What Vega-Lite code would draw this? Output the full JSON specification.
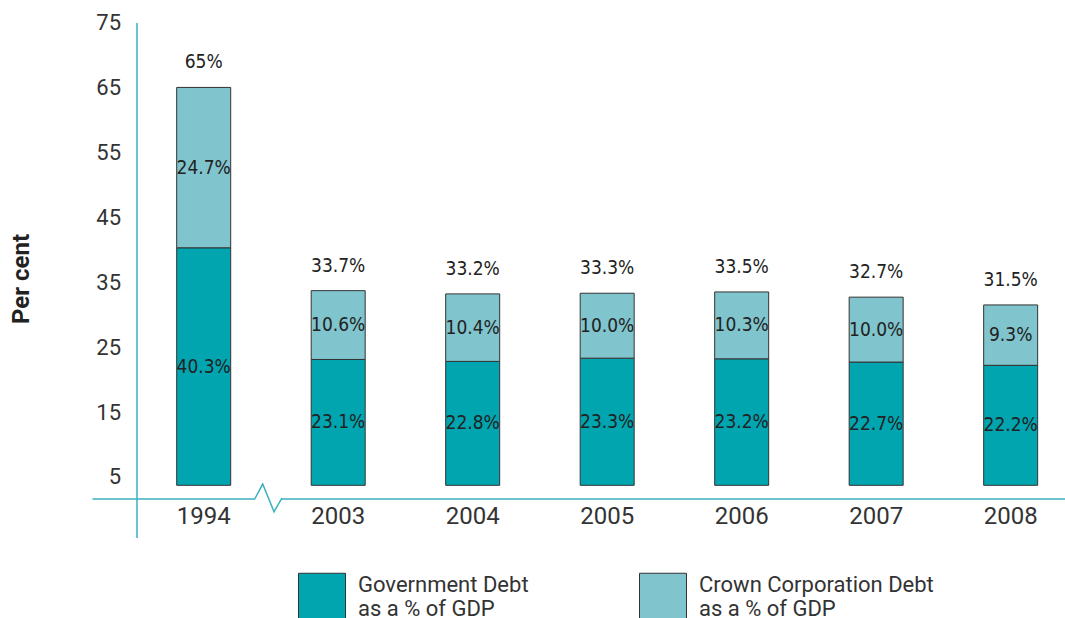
{
  "$schema": "https://vega.github.io/schema/vega-lite/v6.json",
  "autosize": {"type": "none"},
  "padding": {"left": 92, "top": 22.5, "right": 0, "bottom": 80.5},
  "width": 973,
  "height": 515,
  "background": "white",
  "config": {"view": {"stroke": null}, "font": "Roboto"},
  "data": {
    "values": [
      {"year": "1994", "series": "Government Debt", "value": 40.3},
      {"year": "1994", "series": "Crown Corporation Debt", "value": 24.7},
      {"year": "2003", "series": "Government Debt", "value": 23.1},
      {"year": "2003", "series": "Crown Corporation Debt", "value": 10.6},
      {"year": "2004", "series": "Government Debt", "value": 22.8},
      {"year": "2004", "series": "Crown Corporation Debt", "value": 10.4},
      {"year": "2005", "series": "Government Debt", "value": 23.3},
      {"year": "2005", "series": "Crown Corporation Debt", "value": 10.0},
      {"year": "2006", "series": "Government Debt", "value": 23.2},
      {"year": "2006", "series": "Crown Corporation Debt", "value": 10.3},
      {"year": "2007", "series": "Government Debt", "value": 22.7},
      {"year": "2007", "series": "Crown Corporation Debt", "value": 10.0},
      {"year": "2008", "series": "Government Debt", "value": 22.2},
      {"year": "2008", "series": "Crown Corporation Debt", "value": 9.3}
    ]
  },
  "layer": [
    {
      "transform": [
        {"stack": "value", "groupby": ["year"], "sort": [{"field": "series", "order": "descending"}], "as": ["v0", "v1"]},
        {"calculate": "max(datum.v0, 3.72)", "as": "lo"},
        {"calculate": "(datum.lo + datum.v1) / 2", "as": "mid"},
        {"calculate": "format(datum.value, '.1f') + '%'", "as": "lab"},
        {"calculate": "format(datum.v1, '.3~r') + '%'", "as": "tot"}
      ],
      "encoding": {
        "x": {
          "field": "year",
          "type": "nominal",
          "scale": {"paddingInner": 0.5985, "paddingOuter": 0.4165, "align": 0.756},
          "axis": {
            "title": null,
            "labelAngle": 0,
            "ticks": false,
            "offset": -39,
            "domainColor": "#3AAFBE",
            "domainWidth": 1.5,
            "labelFontSize": 24,
            "labelColor": "#333333",
            "labelPadding": 6
          }
        }
      },
      "layer": [
        {
          "mark": {"type": "bar", "stroke": "#333333", "strokeWidth": 1},
          "encoding": {
            "y": {
              "field": "v1",
              "type": "quantitative",
              "scale": {"domain": [-4.32, 75], "nice": false, "zero": false},
              "axis": {
                "values": [5, 15, 25, 35, 45, 55, 65, 75],
                "grid": false,
                "ticks": false,
                "offset": -44.5,
                "domainColor": "#3AAFBE",
                "domainWidth": 1.5,
                "labelFontSize": 22,
                "labelColor": "#333333",
                "labelPadding": 16,
                "title": "Per cent",
                "titleFontSize": 24,
                "titleFontWeight": "bold",
                "titleColor": "#222222",
                "titleBaseline": "alphabetic",
                "titleX": -108,
                "titleY": 256
              }
            },
            "y2": {"field": "lo"},
            "color": {
              "field": "series",
              "type": "nominal",
              "scale": {"domain": ["Government Debt", "Crown Corporation Debt"], "range": ["#00A5B0", "#80C4CD"]},
              "legend": {
                "orient": "none",
                "direction": "horizontal",
                "legendX": 206,
                "legendY": 550,
                "title": null,
                "padding": 0,
                "symbolType": "square",
                "symbolSize": 2209,
                "symbolStrokeColor": "#333333",
                "symbolStrokeWidth": 1,
                "symbolOpacity": 1,
                "labelFontSize": 22,
                "labelColor": "#333333",
                "labelOffset": 12,
                "labelBaseline": "bottom",
                "labelLineHeight": 22,
                "columnPadding": 108,
                "labelLimit": 400,
                "labelExpr": "[datum.label, 'as a % of GDP']"
              }
            }
          }
        },
        {
          "mark": {"type": "text", "font": "'DejaVu Sans Condensed', Roboto, sans-serif", "fontSize": 19, "color": "#222222", "baseline": "middle"},
          "encoding": {
            "y": {"field": "mid", "type": "quantitative"},
            "text": {"field": "lab"}
          }
        },
        {
          "transform": [{"filter": "datum.series == 'Crown Corporation Debt'"}],
          "mark": {"type": "text", "font": "'DejaVu Sans Condensed', Roboto, sans-serif", "fontSize": 19, "color": "#222222", "baseline": "middle", "dy": -25},
          "encoding": {
            "y": {"field": "v1", "type": "quantitative"},
            "text": {"field": "tot"}
          }
        }
      ]
    },
    {
      "data": {"values": [{}]},
      "mark": {"type": "point", "shape": "M-0.97,-0.25L0.97,-0.25L0.97,0.25L-0.97,0.25Z", "size": 729, "filled": true, "fill": "white", "opacity": 1, "strokeWidth": 0},
      "encoding": {
        "x": {"datum": "1994", "type": "nominal", "bandPosition": 1.7},
        "y": {"datum": 1.69, "type": "quantitative"}
      }
    },
    {
      "data": {"values": [{}]},
      "mark": {"type": "point", "shape": "M-1,0L-0.43,-1.07L0.41,0.98L0.98,0L1,0", "size": 729, "filled": false, "stroke": "#3AAFBE", "strokeWidth": 1.5, "opacity": 1},
      "encoding": {
        "x": {"datum": "1994", "type": "nominal", "bandPosition": 1.7},
        "y": {"datum": 1.69, "type": "quantitative"}
      }
    }
  ]
}
